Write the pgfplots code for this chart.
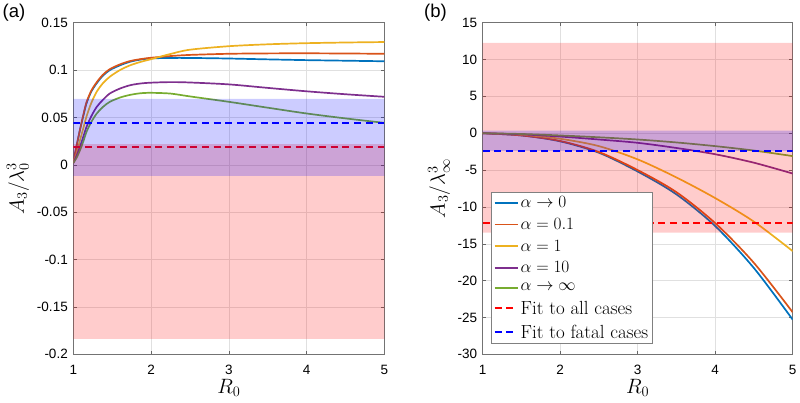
\documentclass[border=0pt]{standalone}
\usepackage{fontspec}
\usepackage{pgfplots}
\pgfplotsset{compat=1.18}
\newfontfamily\helv{Liberation Sans}

\definecolor{mblue}{rgb}{0,0.447,0.741}
\definecolor{mred}{rgb}{0.85,0.325,0.098}
\definecolor{myellow}{rgb}{0.929,0.694,0.125}
\definecolor{mpurple}{rgb}{0.494,0.184,0.556}
\definecolor{mgreen}{rgb}{0.466,0.674,0.188}

\tikzset{
  sercurve/.style={line width=1.7pt, smooth},
  serfit/.style={line width=2pt, dash pattern=on 7pt off 4.7pt},
}
\pgfplotsset{
  base/.style={
    scale only axis, height=331.6pt, anchor=south west,
    xmin=1, xmax=5, xtick={1,2,3,4,5}, xticklabels={1,2,3,4,5},
    scaled y ticks=false,
    tick align=inside, major tick length=3.3pt,
    tick style={black!60, line width=0.5pt},
    axis line style={black!55, line width=0.6pt},
    grid=major, major grid style={black!12, line width=0.5pt},
    ticklabel style={font=\helv\fontsize{13.5}{16}\selectfont},
    /pgf/number format/assume math mode=true,
    xticklabel shift=7pt, yticklabel shift=2pt,
    label style={font=\fontsize{20}{22}\selectfont},
    xlabel={$R_0$},
    xlabel style={at={(axis description cs:0.5,-0.1016)}, anchor=center},
  },
  leglong/.style={legend image code/.code={\draw[##1] (0pt,0pt) -- (23pt,0pt);}},
}

\begin{document}
\begin{tikzpicture}
\useasboundingbox (0pt,0pt) rectangle (800pt,-402pt);

% panel (a)
\begin{axis}[base, at={(73.3pt,-354.3pt)}, width=311pt,
  ymin=-0.2, ymax=0.15,
  ytick={-0.2,-0.15,-0.1,-0.05,0,0.05,0.1,0.15},
  yticklabels={-0.2,-0.15,-0.1,-0.05,0,0.05,0.1,0.15},
  ylabel={$A_3/\lambda_0^3$},
  ylabel style={at={(axis description cs:-0.178,0.5)}, anchor=center},
]
\addplot[sercurve, mblue] coordinates {
  (1.0,0.002) (1.04,0.019) (1.086,0.037) (1.13,0.052) (1.17,0.065) (1.23,0.077)
  (1.3,0.086) (1.38,0.094) (1.47,0.100) (1.6,0.105) (1.73,0.1088) (1.86,0.111)
  (2.0,0.1123) (2.25,0.1128) (2.5,0.1128) (3.0,0.1122) (3.5,0.1113) (4.0,0.1105)
  (4.5,0.1099) (5.0,0.1093)};
\addplot[sercurve, mred] coordinates {
  (1.0,0.002) (1.04,0.019) (1.086,0.037) (1.13,0.053) (1.17,0.066) (1.23,0.078)
  (1.3,0.087) (1.38,0.095) (1.47,0.101) (1.6,0.106) (1.73,0.1095) (1.86,0.1115)
  (2.0,0.113) (2.25,0.1148) (2.5,0.116) (3.0,0.1172) (3.5,0.1176) (4.0,0.1177)
  (4.5,0.1175) (5.0,0.1172)};
\addplot[sercurve, myellow] coordinates {
  (1.0,0.002) (1.04,0.012) (1.086,0.026) (1.13,0.039) (1.17,0.051) (1.23,0.065)
  (1.3,0.077) (1.38,0.086) (1.47,0.093) (1.6,0.1) (1.73,0.105) (1.86,0.1085)
  (2.0,0.1115) (2.25,0.117) (2.5,0.1215) (3.0,0.1252) (3.5,0.1272) (4.0,0.1284)
  (4.5,0.1291) (5.0,0.1296)};
\addplot[sercurve, mpurple] coordinates {
  (1.0,0.002) (1.04,0.009) (1.086,0.019) (1.13,0.030) (1.17,0.040) (1.23,0.051)
  (1.3,0.061) (1.38,0.0685) (1.47,0.0753) (1.6,0.0805) (1.73,0.084) (1.86,0.0858)
  (2.0,0.0867) (2.25,0.0873) (2.5,0.0869) (3.0,0.0849) (3.5,0.0812) (4.0,0.0776)
  (4.5,0.0745) (5.0,0.0718)};
\addplot[sercurve, mgreen] coordinates {
  (1.0,0.002) (1.04,0.007) (1.086,0.0154) (1.13,0.025) (1.17,0.0348) (1.23,0.045)
  (1.3,0.054) (1.38,0.061) (1.47,0.0665) (1.6,0.071) (1.73,0.0738) (1.86,0.0755)
  (2.0,0.076) (2.25,0.0752) (2.5,0.0722) (3.0,0.0665) (3.5,0.0603) (4.0,0.0542)
  (4.5,0.049) (5.0,0.0443)};
% bands and fits
\addplot[draw=none, fill=red, fill opacity=0.2, forget plot] coordinates {
  (1,-0.1836) (5,-0.1836) (5,0.0218) (1,0.0218) (1,-0.1836)};
\addplot[serfit, red] coordinates {(1,0.0183) (5,0.0183)};
\addplot[draw=none, fill=blue, fill opacity=0.2, forget plot] coordinates {
  (1,-0.0117) (5,-0.0117) (5,0.0697) (1,0.0697) (1,-0.0117)};
\addplot[serfit, blue] coordinates {(1,0.0437) (5,0.0437)};
\end{axis}

% panel (b)
\begin{axis}[base, at={(482.7pt,-354.3pt)}, width=310pt,
  ymin=-30, ymax=15,
  ytick={-30,-25,-20,-15,-10,-5,0,5,10,15},
  yticklabels={-30,-25,-20,-15,-10,-5,0,5,10,15},
  ylabel={$A_3/\lambda_\infty^3$},
  ylabel style={at={(axis description cs:-0.141,0.5)}, anchor=center},
  legend cell align=left, leglong,
  legend style={at={(0.028,0.4885)}, anchor=north west,
    draw=black!50, line width=0.6pt, inner sep=2pt, row sep=5pt,
    font=\fontsize{19}{21}\selectfont},
]
\addplot[sercurve, mblue] coordinates {
  (1,0) (1.5,-0.3) (2,-1.1) (2.5,-2.65) (3,-5.2) (3.5,-8.3) (4,-12.6) (4.5,-18.3) (5,-25.3)};
\addplot[sercurve, mred] coordinates {
  (1,0) (1.5,-0.3) (2,-1.05) (2.5,-2.55) (3,-5.0) (3.5,-8.0) (4,-12.2) (4.5,-17.6) (5,-24.3)};
\addplot[sercurve, myellow] coordinates {
  (1,0) (1.5,-0.2) (2,-0.75) (2.5,-1.75) (3,-3.55) (3.5,-6.0) (4,-8.8) (4.5,-12.0) (5,-16.0)};
\addplot[sercurve, mpurple] coordinates {
  (1,0) (1.5,-0.15) (2,-0.45) (2.5,-0.85) (3,-1.3) (3.5,-2.0) (4,-2.85) (4.5,-4.0) (5,-5.47)};
\addplot[sercurve, mgreen] coordinates {
  (1,0) (1.5,-0.1) (2,-0.3) (2.5,-0.55) (3,-0.85) (3.5,-1.25) (4,-1.75) (4.5,-2.35) (5,-3.1)};
\addplot[draw=none, fill=red, fill opacity=0.2, forget plot] coordinates {
  (1,-13.5) (5,-13.5) (5,12.27) (1,12.27) (1,-13.5)};
\addplot[serfit, red] coordinates {(1,-12.16) (5,-12.16)};
\addplot[draw=none, fill=blue, fill opacity=0.2, forget plot] coordinates {
  (1,-2.4) (5,-2.4) (5,0.35) (1,0.35) (1,-2.4)};
\addplot[serfit, blue] coordinates {(1,-2.35) (5,-2.35)};
\addlegendentry{$\alpha\rightarrow0$}
\addlegendentry{$\alpha=0.1$}
\addlegendentry{$\alpha=1$}
\addlegendentry{$\alpha=10$}
\addlegendentry{$\alpha\rightarrow\infty$}
\addlegendentry{Fit to all cases}
\addlegendentry{Fit to fatal cases}
\end{axis}

\node[font=\helv\fontsize{18.5}{20}\selectfont] at (14pt,-12.5pt) {(a)};
\node[font=\helv\fontsize{18.5}{20}\selectfont] at (435.5pt,-12.5pt) {(b)};
\end{tikzpicture}
\end{document}
